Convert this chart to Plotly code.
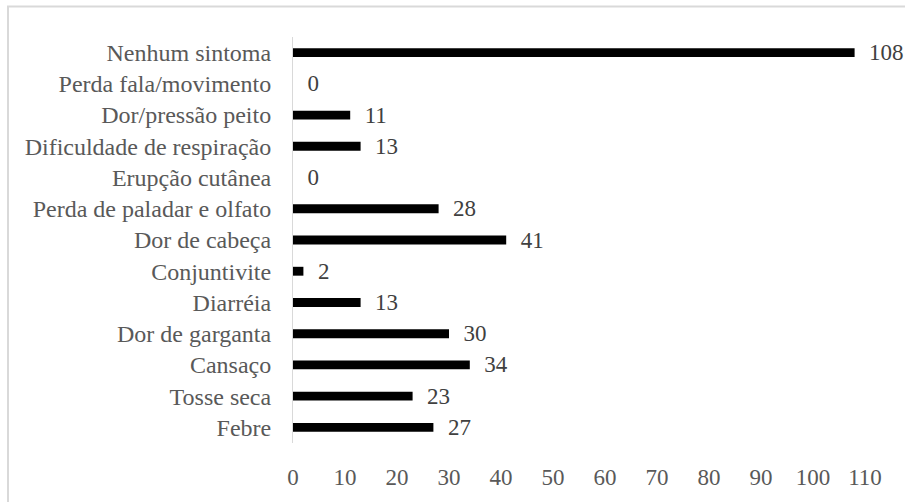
import plotly.graph_objects as go

categories = [
    "Nenhum sintoma",
    "Perda fala/movimento",
    "Dor/pressão peito",
    "Dificuldade de respiração",
    "Erupção cutânea",
    "Perda de paladar e olfato",
    "Dor de cabeça",
    "Conjuntivite",
    "Diarréia",
    "Dor de garganta",
    "Cansaço",
    "Tosse seca",
    "Febre",
]
values = [108, 0, 11, 13, 0, 28, 41, 2, 13, 30, 34, 23, 27]
x_ticks = list(range(0, 111, 10))

FONT = "'Liberation Serif', 'Times New Roman', Times, serif"

W, H = 905, 502
L, R, T, B = 293, 40, 37, 54
pw = W - L - R
ph = H - T - B

def px_to_paper_x(px):
    return (px - L) / pw

def px_to_paper_y(py):
    return (H - B - py) / ph

fig = go.Figure()
fig.add_trace(go.Bar(
    x=values,
    y=categories,
    orientation="h",
    marker=dict(color="#000000", line=dict(width=0)),
    text=values,
    texttemplate="\u2002%{x}",
    textposition="outside",
    constraintext="none",
    cliponaxis=False,
    textfont=dict(family=FONT, size=23, color="#404040"),
    outsidetextfont=dict(family=FONT, size=23, color="#404040"),
    hoverinfo="skip",
))

fig.update_layout(
    width=W, height=H,
    margin=dict(l=L, r=R, t=T, b=B),
    paper_bgcolor="white",
    plot_bgcolor="white",
    bargap=0.716,
    showlegend=False,
    font=dict(family=FONT, size=23, color="#595959"),
    xaxis=dict(
        range=[0, 110],
        tickvals=x_ticks,
        ticktext=[str(v) for v in x_ticks],
        showgrid=False,
        zeroline=False,
        showline=False,
        ticks="",
        ticklabelstandoff=18,
        tickfont=dict(family=FONT, size=23, color="#595959"),
        fixedrange=True,
    ),
    yaxis=dict(
        categoryorder="array",
        categoryarray=categories,
        autorange="reversed",
        showgrid=False,
        zeroline=False,
        showline=True,
        linecolor="#d9d9d9",
        linewidth=1,
        ticks="",
        ticklabelstandoff=16,
        tickfont=dict(family=FONT, size=24, color="#595959"),
        fixedrange=True,
    ),
    shapes=[dict(
        type="rect",
        xref="paper", yref="paper",
        x0=px_to_paper_x(8), x1=px_to_paper_x(W + 20),
        y0=px_to_paper_y(H + 20), y1=px_to_paper_y(6),
        line=dict(color="#d9d9d9", width=2),
        fillcolor="rgba(0,0,0,0)",
        layer="below",
    )],
)

fig.write_html("out.html")
